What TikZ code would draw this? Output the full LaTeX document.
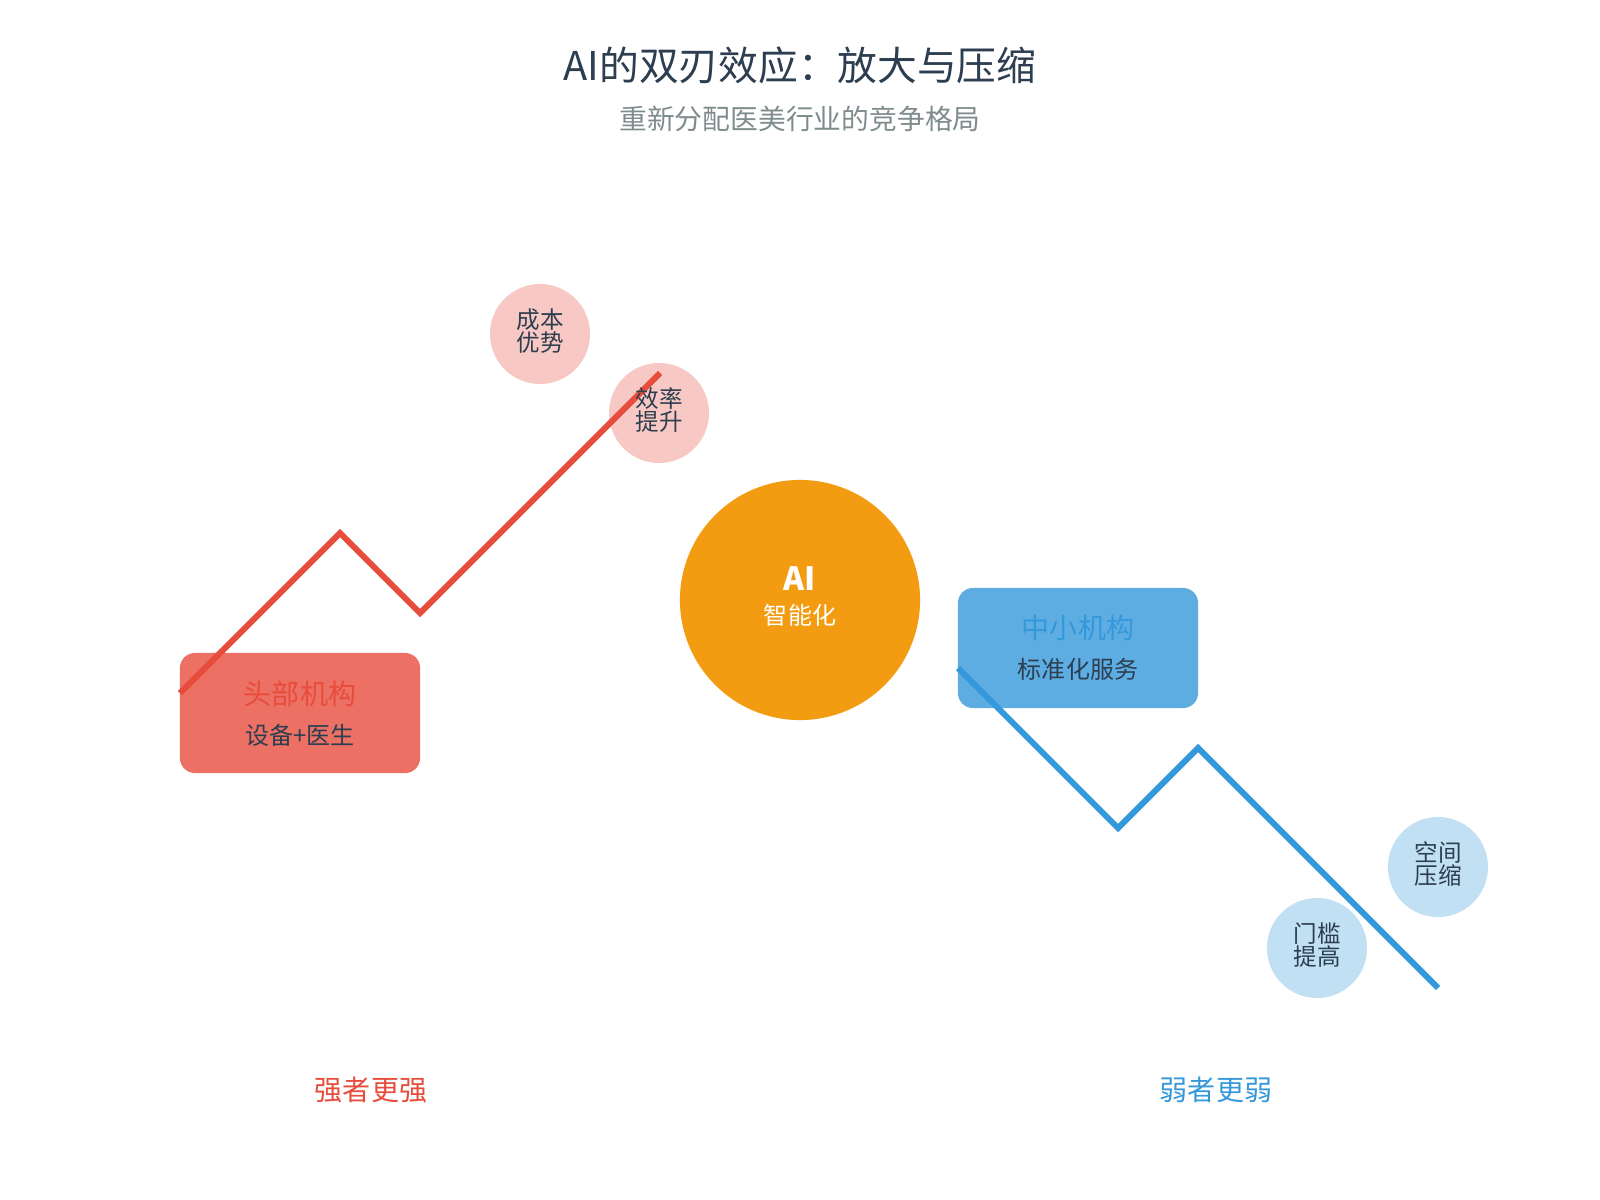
\documentclass[tikz,border=0pt]{standalone}
\usepackage{fontspec}
\setmainfont{Noto Sans CJK SC}
\usetikzlibrary{positioning}
\definecolor{strongred}{HTML}{E74C3C}
\definecolor{weakblue}{HTML}{3498DB}
\definecolor{aiorange}{HTML}{F39C12}
\definecolor{darktext}{HTML}{2C3E50}
\definecolor{greytext}{HTML}{7F8C8D}

% 1px = 0.01cm = 0.2845pt
\tikzset{
  orgbox/.style={rounded corners=0.15cm, minimum width=2.4cm, minimum height=1.2cm, inner sep=0pt},
  bubble/.style={circle, minimum size=1cm, inner sep=0pt},
  bubbletext/.style={darktext, align=center, inner sep=0pt, font=\fontsize{6.7}{6.3}\selectfont},
  orgname/.style={font=\fontsize{7.97}{9}\selectfont},
  orgsub/.style={darktext, font=\fontsize{6.83}{8}\selectfont},
  trend/.style={line width=0.06cm}
}

\begin{document}
\begin{tikzpicture}[x=0.01cm, y=-0.01cm]
\useasboundingbox[fill=white] (0,0) rectangle (1600,1200);

% Title
\node[darktext, font=\fontsize{11.3}{13}\selectfont] (title) at (800,65) {AI的双刃效应：放大与压缩};
\node[greytext, font=\fontsize{7.9}{9}\selectfont] (subtitle) at (800,119) {重新分配医美行业的竞争格局};

% Boxes
\node[orgbox, fill=strongred!80] (headbox) at (300,713) {};
\node[orgbox, fill=weakblue!80] (smallbox) at (1078,648) {};

% AI core
\node[circle, fill=aiorange, minimum size=2.4cm, inner sep=0pt] (ai) at (800,600) {};
\node[white, font=\bfseries\fontsize{9.1}{10}\selectfont] (ailabel) at (800,579) {AI};
\node[white, font=\fontsize{6.83}{8}\selectfont] (aisub) at (800,615) {智能化};

% Bubbles
\foreach \name/\x/\y/\col in {cost/540/334/strongred, speed/659/413/strongred,
                               gate/1317/948/weakblue, room/1438/867/weakblue} {
    \node[bubble, fill=\col!30] (\name) at (\x,\y) {};
}

% Strong get stronger
\draw[trend, strongred] (180,693) -- (340,533) -- (420,613) -- (660,373);

% Weak get weaker
\draw[trend, weakblue] (958,668) -- (1118,828) -- (1198,748) -- (1438,988);

% Bubble texts
\foreach \name/\txt in {cost/{成本\\优势}, speed/{效率\\提升}, gate/{门槛\\提高}, room/{空间\\压缩}} {
    \node[bubbletext] (\name text) at ([yshift=0.03cm]\name.center) {\txt};
}

% Box texts
\node[orgname, strongred] (headname) at (300,694) {头部机构};
\node[orgsub] (headsub) at (300,735) {设备+医生};
\node[orgname, weakblue] (smallname) at (1078,628) {中小机构};
\node[orgsub] (smallsub) at (1078,669) {标准化服务};

% Bottom labels
\node[strongred, font=\fontsize{7.97}{9}\selectfont] (strong) at (371,1090) {强者更强};
\node[weakblue, font=\fontsize{7.97}{9}\selectfont] (weak) at (1216,1090) {弱者更弱};
\end{tikzpicture}
\end{document}
